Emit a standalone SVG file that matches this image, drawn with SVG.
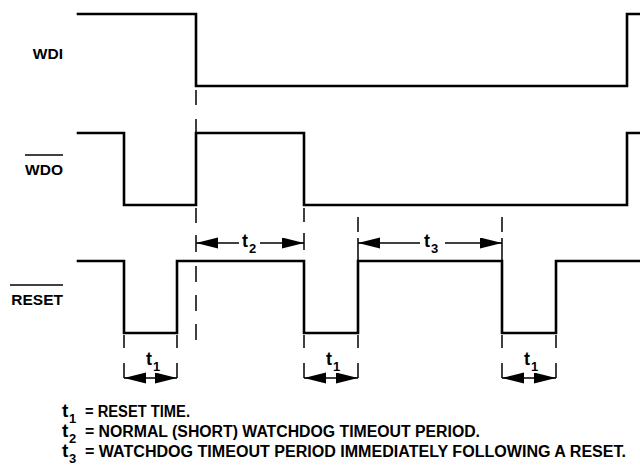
<svg xmlns="http://www.w3.org/2000/svg" width="640" height="469" viewBox="0 0 640 469">
<style>
.sig{fill:none;stroke:#000;stroke-width:2.6;stroke-linejoin:miter;stroke-linecap:square}
.dash{fill:none;stroke:#000;stroke-width:1.5}
.arr{fill:none;stroke:#000;stroke-width:1.5}
.lbl{font-family:"Liberation Sans",Arial,Helvetica,sans-serif;font-weight:bold;font-size:15.5px;fill:#000}
.t{font-family:"Liberation Sans",Arial,Helvetica,sans-serif;font-weight:bold;font-size:18px;fill:#000}
.sub{font-size:13px}
.foot{font-family:"Liberation Sans",Arial,Helvetica,sans-serif;font-weight:bold;font-size:16px;fill:#000}
.ft{font-family:"Liberation Sans",Arial,Helvetica,sans-serif;font-weight:bold;font-size:19px;fill:#000}
.fs{font-family:"Liberation Sans",Arial,Helvetica,sans-serif;font-weight:bold;font-size:13px;fill:#000}
.ov{stroke:#000;stroke-width:1.6}
</style>
<defs>
<marker id="ah" markerUnits="userSpaceOnUse" markerWidth="22" markerHeight="12" refX="22" refY="5.5" orient="auto-start-reverse">
<path d="M0,0 L22,5.5 L0,11 Z" fill="#000"/>
</marker>
</defs>
<rect width="640" height="469" fill="#fff"/>

<g id="wdi">
<path class="sig" d="M78,14 H196 V86 H627 V14 H640"/>
<text class="lbl" x="63" y="59" text-anchor="end">WDI</text>
</g>

<g id="wdo">
<path class="sig" d="M78,133 H124 V205 H196 V133 H304 V205 H627 V133 H640"/>
<line class="ov" x1="25" y1="155" x2="63" y2="155"/>
<text class="lbl" x="63" y="175" text-anchor="end">WDO</text>
</g>

<g id="reset">
<path class="sig" d="M78,261 H124 V333 H177 V261 H304 V333 H358 V261 H502 V333 H556 V261 H640"/>
<line class="ov" x1="10" y1="285" x2="63" y2="285"/>
<text class="lbl" x="63" y="305" text-anchor="end">RESET</text>
</g>

<g id="connectors">
<path class="dash" d="M196,90V105 M196,119V133 M196,208V223 M196,235V252 M196,266V282 M196,295V311 M196,324V340"/>
<path class="dash" d="M304,208V222 M304,233V250 M304,335V348 M304,363V378"/>
<path class="dash" d="M124,335V348 M124,363V378 M177,335V348 M177,363V378"/>
<path class="dash" d="M358,217V232 M358,238V261 M358,335V348 M358,363V378"/>
<path class="dash" d="M502,217V232 M502,238V261 M502,335V348 M502,363V378"/>
<path class="dash" d="M556,335V348 M556,363V378"/>
<line class="arr" x1="196" y1="243" x2="239" y2="243" marker-start="url(#ah)"/>
<line class="arr" x1="260" y1="243" x2="304" y2="243" marker-end="url(#ah)"/>
<line class="arr" x1="358" y1="243" x2="420" y2="243" marker-start="url(#ah)"/>
<line class="arr" x1="445" y1="243" x2="502" y2="243" marker-end="url(#ah)"/>
<line class="arr" x1="124" y1="378" x2="177" y2="378" marker-start="url(#ah)" marker-end="url(#ah)"/>
<line class="arr" x1="304" y1="378" x2="358" y2="378" marker-start="url(#ah)" marker-end="url(#ah)"/>
<line class="arr" x1="502" y1="378" x2="556" y2="378" marker-start="url(#ah)" marker-end="url(#ah)"/>
</g>

<g id="timing-labels">
<text class="t" x="242" y="247">t<tspan class="sub" x="249" y="253">2</tspan></text>
<text class="t" x="424" y="247">t<tspan class="sub" x="431" y="253">3</tspan></text>
<text class="t" x="146" y="365">t<tspan class="sub" x="153" y="371">1</tspan></text>
<text class="t" x="326" y="365">t<tspan class="sub" x="333" y="371">1</tspan></text>
<text class="t" x="524" y="365">t<tspan class="sub" x="531" y="371">1</tspan></text>
</g>

<g id="legend">
<text class="ft" x="62" y="417">t</text>
<text class="fs" x="69" y="423">1</text>
<text class="foot" x="85" y="417" textLength="105" lengthAdjust="spacingAndGlyphs">= RESET TIME.</text>
<text class="ft" x="62" y="437">t</text>
<text class="fs" x="69" y="443">2</text>
<text class="foot" x="85" y="437" textLength="395" lengthAdjust="spacingAndGlyphs">= NORMAL (SHORT) WATCHDOG TIMEOUT PERIOD.</text>
<text class="ft" x="62" y="457">t</text>
<text class="fs" x="69" y="463">3</text>
<text class="foot" x="85" y="457" textLength="541" lengthAdjust="spacingAndGlyphs">= WATCHDOG TIMEOUT PERIOD IMMEDIATELY FOLLOWING A RESET.</text>
</g>
</svg>
